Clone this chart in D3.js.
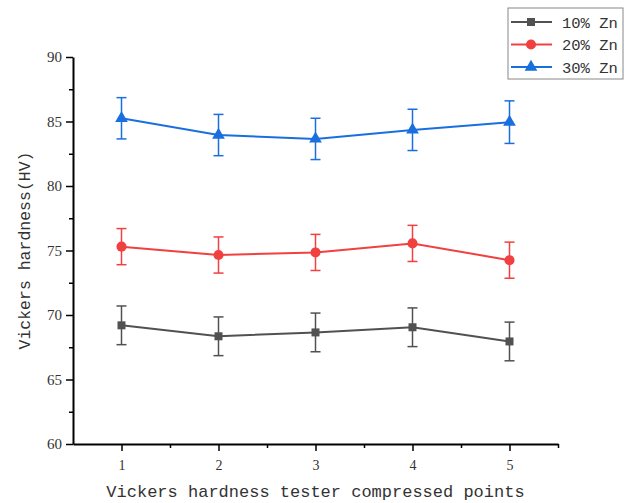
<!DOCTYPE html>
<html>
<head>
<meta charset="utf-8">
<script src="https://cdn.jsdelivr.net/npm/d3@7"></script>
<style>
  body { margin: 0; background: #fff; }
  svg text { font-family: "Liberation Mono", "DejaVu Sans Mono", monospace; fill: #333; }
</style>
</head>
<body>
<svg id="chart" width="633" height="503"></svg>
<script>
// data
var points = [1, 2, 3, 4, 5];
var zn10 = [69.2, 68.35, 68.65, 69.05, 67.95];
var zn10Err = [1.5, 1.5, 1.5, 1.5, 1.5];
var zn20 = [75.3, 74.65, 74.85, 75.55, 74.25];
var zn20Err = [1.4, 1.4, 1.4, 1.4, 1.4];
var zn30 = [85.25, 83.95, 83.65, 84.35, 84.95];
var zn30Err = [1.6, 1.6, 1.6, 1.6, 1.65];
var yTicks = [60, 65, 70, 75, 80, 85, 90];
var seriesNames = ["10% Zn", "20% Zn", "30% Zn"];

var series = [
    {name: seriesNames[0], values: zn10, err: zn10Err, color: "#515151", symbol: d3.symbolSquare, size: 64},
    {name: seriesNames[1], values: zn20, err: zn20Err, color: "#F14040", symbol: d3.symbolCircle, size: 80},
    {name: seriesNames[2], values: zn30, err: zn30Err, color: "#1A6FDF", symbol: d3.symbolTriangle, size: 70}
];

var svg = d3.select("#chart");
var margin = {top: 57, left: 73, right: 75, bottom: 59};
var width = 633 - margin.left - margin.right;
var height = 503 - margin.top - margin.bottom;

// ======================================================
// SCALES
var x = d3.scaleLinear().domain([0.5, 5.5]).range([0, width]);
var y = d3.scaleLinear().domain([60, 90]).range([height, 0]);

var g = svg.append("g")
    .attr("transform", "translate(" + margin.left + "," + margin.top + ")");

// minor ticks
g.append("g")
    .attr("transform", "translate(0," + height + ")")
    .call(d3.axisBottom(x).tickValues([1.5, 2.5, 3.5, 4.5, 5.5]).tickSize(4).tickFormat(""))
    .call(a => a.select(".domain").remove())
    .selectAll("line").attr("stroke-width", 1.5);
g.append("g")
    .call(d3.axisLeft(y).tickValues([62.5, 67.5, 72.5, 77.5, 82.5, 87.5]).tickSize(4).tickFormat(""))
    .call(a => a.select(".domain").remove())
    .selectAll("line").attr("stroke-width", 1.5);

// x axis
var xAxis = g.append("g")
    .attr("transform", "translate(0," + height + ")")
    .call(d3.axisBottom(x).tickValues(points).tickFormat(d3.format("d")).tickSize(7).tickPadding(9).tickSizeOuter(0));
xAxis.select(".domain").attr("stroke-width", 2);
xAxis.selectAll("line").attr("stroke-width", 1.5);
xAxis.selectAll("text").style("font-size", "14px").style("font-family", "Liberation Serif, serif");

// y axis
var yAxis = g.append("g")
    .call(d3.axisLeft(y).tickValues(yTicks).tickSize(7).tickPadding(4).tickSizeOuter(0));
yAxis.select(".domain").attr("stroke-width", 2);
yAxis.selectAll("line").attr("stroke-width", 1.5);
yAxis.selectAll("text").style("font-size", "15px").style("font-family", "Liberation Serif, serif");

// axis titles
svg.append("text")
    .attr("x", margin.left + x(3))
    .attr("y", 497)
    .attr("text-anchor", "middle")
    .style("font-size", "17px")
    .text("Vickers hardness tester compressed points");
svg.append("text")
    .attr("transform", "translate(30," + (margin.top + y(75)) + ") rotate(-90)")
    .attr("text-anchor", "middle")
    .style("font-size", "16.5px")
    .text("Vickers hardness(HV)");

// series
var line = d3.line()
    .x((d, i) => x(points[i]))
    .y(d => y(d));

series.forEach(function(s) {
    var sg = g.append("g");
    // error bars
    points.forEach(function(p, i) {
        var top = y(s.values[i] + s.err[i]);
        var bot = y(s.values[i] - s.err[i]);
        sg.append("line").attr("x1", x(p)).attr("x2", x(p)).attr("y1", top).attr("y2", bot)
            .attr("stroke", s.color).attr("stroke-width", 1.5);
        sg.append("line").attr("x1", x(p) - 5).attr("x2", x(p) + 5).attr("y1", top).attr("y2", top)
            .attr("stroke", s.color).attr("stroke-width", 1.5);
        sg.append("line").attr("x1", x(p) - 5).attr("x2", x(p) + 5).attr("y1", bot).attr("y2", bot)
            .attr("stroke", s.color).attr("stroke-width", 1.5);
    });
    sg.append("path")
        .datum(s.values)
        .attr("d", line)
        .attr("fill", "none")
        .attr("stroke", s.color)
        .attr("stroke-width", 2);
    sg.selectAll("path.marker")
        .data(s.values)
        .enter()
        .append("path")
        .attr("class", "marker")
        .attr("transform", (d, i) => "translate(" + x(points[i]) + "," + y(d) + ")")
        .attr("d", d3.symbol().type(s.symbol).size(s.size))
        .attr("fill", s.color);
});

// legend
var legend = svg.append("g").attr("transform", "translate(508,8)");
legend.append("rect")
    .attr("width", 115).attr("height", 71)
    .attr("fill", "#fff").attr("stroke", "#888").attr("stroke-width", 1);
series.forEach(function(s, i) {
    var ly = 14 + i * 22.5;
    legend.append("line").attr("x1", 3).attr("x2", 44).attr("y1", ly).attr("y2", ly)
        .attr("stroke", s.color).attr("stroke-width", 2);
    legend.append("path")
        .attr("transform", "translate(23," + ly + ")")
        .attr("d", d3.symbol().type(s.symbol).size(s.size))
        .attr("fill", s.color);
    legend.append("text")
        .attr("x", 54).attr("y", ly + 5.5)
        .style("font-size", "15.5px")
        .text(s.name);
});
</script>
</body>
</html>
